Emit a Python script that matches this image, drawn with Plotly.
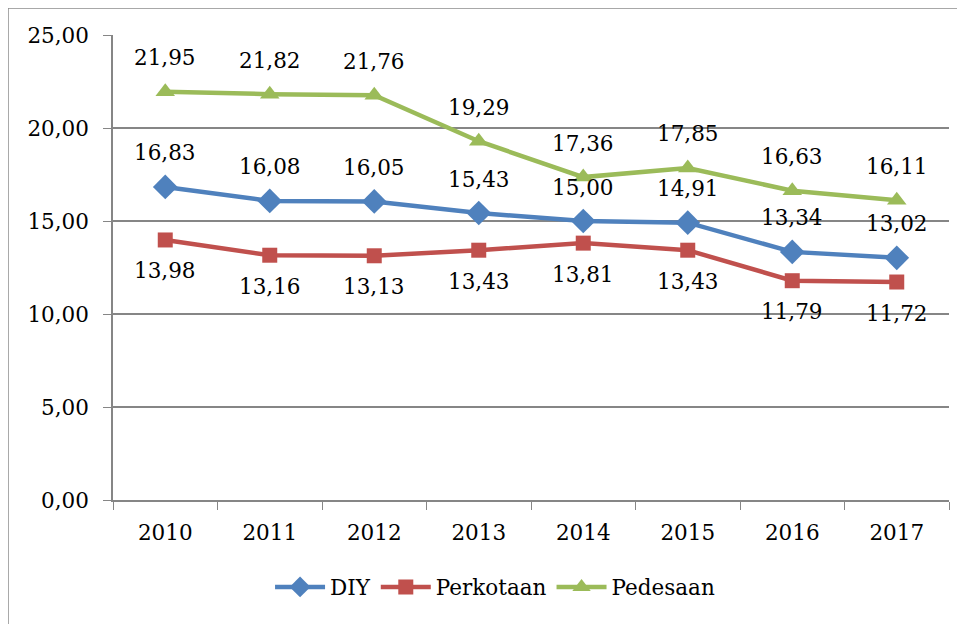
import plotly.graph_objects as go

# data
tahun = ['2010', '2011', '2012', '2013', '2014', '2015', '2016', '2017']
diy = [16.83, 16.08, 16.05, 15.43, 15.00, 14.91, 13.34, 13.02]
perkotaan = [13.98, 13.16, 13.13, 13.43, 13.81, 13.43, 11.79, 11.72]
pedesaan = [21.95, 21.82, 21.76, 19.29, 17.36, 17.85, 16.63, 16.11]

FONT = 'DejaVu Serif'
UK = 21.5

fig = go.Figure()

series = [
    ('DIY', diy, '#4F81BD', 'diamond', 19, 34),
    ('Perkotaan', perkotaan, '#C0504D', 'square', 15, -31),
    ('Pedesaan', pedesaan, '#9BBB59', 'triangle-up', 17, 34),
]

for nama, nilai, warna, simbol, ukuran, geser in series:
    fig.add_trace(go.Scatter(x=tahun, y=nilai, name=nama, mode='lines+markers',
                             line=dict(color=warna, width=4.5),
                             marker=dict(symbol=simbol, size=ukuran, color=warna)))
    # label nilai (posisi kategori pakai indeks)
    for i, v in enumerate(nilai):
        fig.add_annotation(x=i, y=v, text=f"{v:.2f}".replace('.', ','),
                           showarrow=False, yshift=geser,
                           font=dict(family=FONT, size=UK, color='black'))

# bingkai luar
fig.add_shape(type='rect', xref='paper', yref='paper',
              x0=-0.1256, x1=1.1, y0=-0.4, y1=1.058,
              line=dict(color='#8c8c8c', width=1.5))

fig.update_layout(width=957, height=616,
                  margin=dict(l=105, r=16, t=27, b=124),
                  plot_bgcolor='white', paper_bgcolor='white',
                  separators=',.',
                  font=dict(family=FONT, size=UK, color='black'),
                  showlegend=True,
                  legend=dict(orientation='h', x=0.457, xanchor='center',
                              y=-0.187, yanchor='middle',
                              font=dict(family=FONT, size=UK),
                              itemwidth=50, tracegroupgap=0))

fig.update_xaxes(type='category', showline=True, linecolor='#868686', linewidth=1.5,
                 ticks='outside', tickson='boundaries', ticklen=8, tickcolor='#868686',
                 ticklabelstandoff=12,
                 showgrid=False, range=[-0.5, 7.5])
fig.update_yaxes(range=[0, 25], dtick=5, tickformat='.2f',
                 showline=True, linecolor='#868686', linewidth=1.5,
                 ticks='outside', ticklen=8, tickcolor='#868686',
                 ticklabelstandoff=10,
                 showgrid=True, gridcolor='#868686', gridwidth=1.5,
                 zeroline=False)

fig.write_html("out.html")
